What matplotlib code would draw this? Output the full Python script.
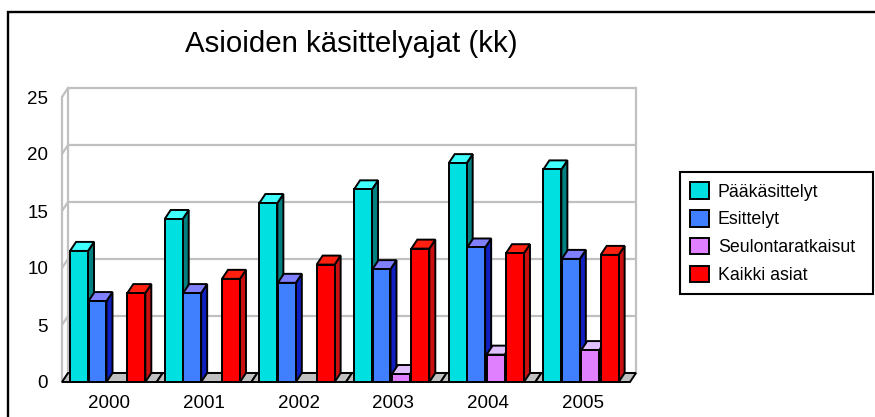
# -*- coding: utf-8 -*-
#Asioiden kasittelyajat, 3D looking bar chart
import matplotlib
matplotlib.use('Agg')
import matplotlib.pyplot as plt
from matplotlib.lines import Line2D
from matplotlib.patches import Patch, Polygon

plt.rcParams['font.family'] = ['Liberation Sans', 'DejaVu Sans']

#the data
title = 'Asioiden käsittelyajat (kk)'
years = ['2000', '2001', '2002', '2003', '2004', '2005']
yticks = [0, 5, 10, 15, 20, 25]
series_names = ['Pääkäsittelyt', 'Esittelyt', 'Seulontaratkaisut', 'Kaikki asiat']
paakasittelyt = [11.5, 14.3, 15.7, 16.9, 19.2, 18.65]
esittelyt = [7.1, 7.8, 8.7, 9.9, 11.8, 10.8]
seulonta = [None, None, None, 0.7, 2.4, 2.8]
kaikki = [7.8, 9.05, 10.3, 11.7, 11.3, 11.15]
series = [paakasittelyt, esittelyt, seulonta, kaikki]

#front, top and side colours
front_colors = ['#00E0E0', '#4080FF', '#E080FF', '#FF0000']
top_colors = ['#40FFFF', '#8080FF', '#E0C0FF', '#FF2010']
side_colors = ['#008080', '#1020C0', '#A060C0', '#C81010']
offsets = [-0.32, -0.125, 0.08, 0.285]
bar_w = 0.19

W, H = 875, 417
fig = plt.figure(figsize=(W / 100, H / 100), dpi=100)
ax = fig.add_axes([62 / W, 1 - 382 / H, 568 / W, 285 / H])
ax.set_xlim(-0.5, 5.5)
ax.set_ylim(0, 25)
for s in ax.spines.values():
    s.set_visible(False)
ax.patch.set_visible(False)

#depth of the fake 3D in data units
dx = 6 / (568 / 6)
dy = 9 / (285 / 25)
grey = '#C0C0C0'

#walls
for t in yticks:
    ax.plot([-0.5, -0.5 + dx, 5.5 + dx], [t, t + dy, t + dy], color=grey, lw=1.6,
            clip_on=False, zorder=1, solid_capstyle='butt')
ax.plot([-0.5, -0.5], [0, 25], color=grey, lw=1.6, clip_on=False, zorder=1)
ax.plot([-0.5 + dx, -0.5 + dx], [dy, 25 + dy], color=grey, lw=1.6, clip_on=False, zorder=1)
ax.plot([5.5 + dx, 5.5 + dx], [dy, 25 + dy], color=grey, lw=1.6, clip_on=False, zorder=1)

#floor, one piece per year
for i in range(len(years)):
    x0, x1 = i - 0.5, i + 0.5
    ax.add_patch(Polygon([(x0, 0), (x1, 0), (x1 + dx, dy), (x0 + dx, dy)], closed=True,
                         facecolor=grey, edgecolor='black', lw=1.4, clip_on=False, zorder=2))

#bars, left to right so the next bar hides the side of the previous one
z = 3
for i in range(len(years)):
    for k, values in enumerate(series):
        v = values[i]
        if v is None:
            continue
        x0 = i + offsets[k] - bar_w / 2
        x1 = x0 + bar_w
        ax.add_patch(Polygon([(x1, 0), (x1 + dx, dy), (x1 + dx, v + dy), (x1, v)], closed=True,
                             facecolor=side_colors[k], edgecolor='black', lw=1.4, clip_on=False, zorder=z))
        ax.add_patch(Polygon([(x0, v), (x1, v), (x1 + dx, v + dy), (x0 + dx, v + dy)], closed=True,
                             facecolor=top_colors[k], edgecolor='black', lw=1.4, clip_on=False, zorder=z))
        ax.bar(i + offsets[k], v, width=bar_w, color=front_colors[k], edgecolor='black', lw=1.4,
               clip_on=False, zorder=z + 1)
        z += 2

ax.set_xticks(range(len(years)))
ax.set_xticklabels(years, fontsize=13.5)
ax.set_yticks(yticks)
ax.set_yticklabels([str(t) for t in yticks], fontsize=13.5)
ax.tick_params(axis='x', length=0, pad=9.5)
ax.tick_params(axis='y', length=0, pad=10)

fig.text(351 / W, 1 - 44 / H, title, fontsize=21.2, ha='center', va='center')

#frame only on top and left, runs off the picture
fig.add_artist(Line2D([8 / W, 8 / W, 1], [0, 1 - 12 / H, 1 - 12 / H], color='black', lw=1.7,
                      transform=fig.transFigure, solid_joinstyle='miter'))

handles = [Patch(facecolor=c, edgecolor='black', lw=1.4) for c in front_colors]
leg = fig.legend(handles, series_names, loc='upper left', mode='expand',
                 bbox_to_anchor=(680 / W, 1 - 294 / H, 193 / W, 122 / H),
                 bbox_transform=fig.transFigure, borderaxespad=0, fontsize=12.75, fancybox=False,
                 framealpha=1, edgecolor='black', handlelength=1.05, handleheight=1.05,
                 handletextpad=0.5, labelspacing=0.54, borderpad=0.58)
leg.get_frame().set_linewidth(1.5)

fig.savefig('out.png', dpi=100)
